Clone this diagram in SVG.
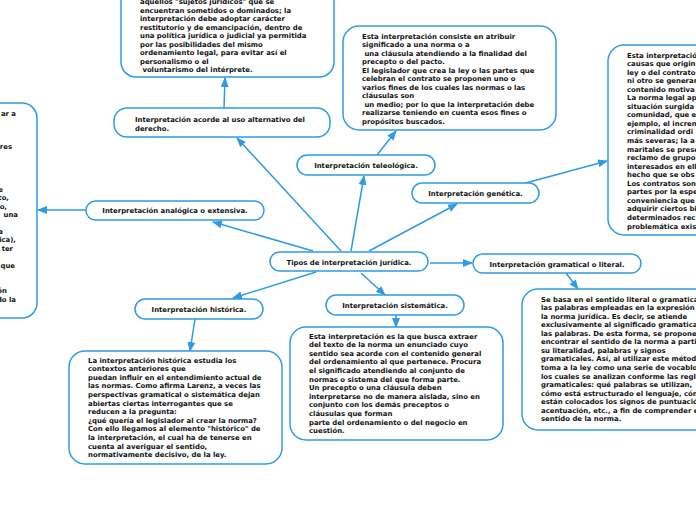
<svg xmlns="http://www.w3.org/2000/svg" width="696" height="520" viewBox="0 0 696 520">
<defs>
<style>
.n{fill:#fff;stroke:#2f9be2;stroke-width:1.5}
.t{font-family:"DejaVu Sans",Verdana,sans-serif;font-weight:bold;font-size:6.9px;fill:#111}
.c{text-anchor:middle}
.e{text-anchor:end}
.l{fill:none;stroke:#2f9be2;stroke-width:1.5}
</style>
<marker id="a" markerUnits="userSpaceOnUse" markerWidth="10" markerHeight="10" viewBox="0 0 10 10" refX="9" refY="5" orient="auto">
<path d="M0,1 L10,5 L0,9 Z" fill="#2f9be2"/>
</marker>
</defs>
<rect width="696" height="520" fill="#fff"/>
<g id="connectors">
<line class="l" x1="341" y1="251" x2="237" y2="138" marker-end="url(#a)"/>
<line class="l" x1="313" y1="251" x2="213" y2="222" marker-end="url(#a)"/>
<line class="l" x1="351" y1="251" x2="364" y2="176" marker-end="url(#a)"/>
<line class="l" x1="369" y1="251" x2="457" y2="204" marker-end="url(#a)"/>
<line class="l" x1="430" y1="263" x2="472" y2="263" marker-end="url(#a)"/>
<line class="l" x1="361" y1="273" x2="385" y2="295" marker-end="url(#a)"/>
<line class="l" x1="316" y1="272" x2="233" y2="298" marker-end="url(#a)"/>
<line class="l" x1="224" y1="108" x2="225" y2="78" marker-end="url(#a)"/>
<line class="l" x1="377" y1="155" x2="396" y2="131" marker-end="url(#a)"/>
<line class="l" x1="522" y1="184" x2="607" y2="161" marker-end="url(#a)"/>
<line class="l" x1="566" y1="273" x2="578" y2="289" marker-end="url(#a)"/>
<line class="l" x1="396" y1="315" x2="396" y2="327" marker-end="url(#a)"/>
<line class="l" x1="195" y1="319" x2="190" y2="351" marker-end="url(#a)"/>
<line class="l" x1="86" y1="210" x2="38" y2="210" marker-end="url(#a)"/>
</g>
<g id="central">
<rect class="n" x="270" y="252" width="158" height="19" rx="9.5"/>
<text class="t c" x="349" y="264.5">Tipos de interpretación jurídica.</text>
</g>
<g id="gramatical">
<rect class="n" x="473" y="254" width="168" height="19" rx="9.5"/>
<text class="t c" x="557" y="266.5">Interpretación gramatical o literal.</text>
</g>
<g id="genetica">
<rect class="n" x="412" y="183" width="127" height="20" rx="10"/>
<text class="t c" x="475.5" y="195.5">Interpretación genética.</text>
</g>
<g id="teleologica">
<rect class="n" x="297" y="155" width="138" height="20" rx="10"/>
<text class="t c" x="366" y="167.5">Interpretación teleológica.</text>
</g>
<g id="sistematica">
<rect class="n" x="326" y="295" width="138" height="20" rx="10"/>
<text class="t c" x="395" y="307.5">Interpretación sistemática.</text>
</g>
<g id="historica">
<rect class="n" x="135" y="299" width="128" height="20" rx="10"/>
<text class="t c" x="199" y="311.5">Interpretación histórica.</text>
</g>
<g id="analogica">
<rect class="n" x="86" y="201" width="178" height="19" rx="9.5"/>
<text class="t c" x="175" y="213">Interpretación analógica o extensiva.</text>
</g>
<g id="acorde">
<rect class="n" x="114" y="108" width="216" height="29" rx="13"/>
<text class="t" x="135" y="122">Interpretación acorde al uso alternativo del<tspan x="135" dy="8.8">derecho.</tspan></text>
</g>
<g id="box-acorde">
<rect class="n" x="121" y="-20" width="213" height="97" rx="15"/>
<text class="t" x="140" y="4.3">aquellos "sujetos jurídicos" que se<tspan x="140" dy="8.5">encuentran sometidos o dominados; la</tspan><tspan x="140" dy="8.5">interpretación debe adoptar carácter</tspan><tspan x="140" dy="8.5">restitutorio y de emancipación, dentro de</tspan><tspan x="140" dy="8.5">una política jurídica o judicial ya permitida</tspan><tspan x="140" dy="8.5">por las posibilidades del mismo</tspan><tspan x="140" dy="8.5">ordenamiento legal, para evitar así el</tspan><tspan x="140" dy="8.5">personalismo o el</tspan><tspan x="140" dy="8.5"> voluntarismo del intérprete.</tspan></text>
</g>
<g id="box-teleologica">
<rect class="n" x="343" y="26" width="213" height="104" rx="16"/>
<text class="t" x="362" y="38.5">Esta interpretación consiste en atribuir<tspan x="362" dy="8.5">significado a una norma o a</tspan><tspan x="362" dy="8.5"> una cláusula atendiendo a la finalidad del</tspan><tspan x="362" dy="8.5">precepto o del pacto.</tspan><tspan x="362" dy="8.5">El legislador que crea la ley o las partes que</tspan><tspan x="362" dy="8.5">celebran el contrato se proponen uno o</tspan><tspan x="362" dy="8.5">varios fines de los cuales las normas o las</tspan><tspan x="362" dy="8.5">cláusulas son</tspan><tspan x="362" dy="8.5"> un medio; por lo que la interpretación debe</tspan><tspan x="362" dy="8.5">realizarse teniendo en cuenta esos fines o</tspan><tspan x="362" dy="8.5">propósitos buscados.</tspan></text>
</g>
<g id="box-genetica">
<rect class="n" x="608" y="45" width="120" height="190" rx="16"/>
<text class="t" x="627" y="57.5">Esta interpretació<tspan x="627" dy="8.55">causas que origin</tspan><tspan x="627" dy="8.55">ley o del contrato</tspan><tspan x="627" dy="8.55">ni otro se generar</tspan><tspan x="627" dy="8.55">contenido motiva</tspan><tspan x="627" dy="8.55">La norma legal ap</tspan><tspan x="627" dy="8.55">situación surgida</tspan><tspan x="627" dy="8.55">comunidad, que e</tspan><tspan x="627" dy="8.55">ejemplo, el incren</tspan><tspan x="627" dy="8.55">criminalidad ordi</tspan><tspan x="627" dy="8.55">más severas; la a</tspan><tspan x="627" dy="8.55">maritales se prese</tspan><tspan x="627" dy="8.55">reclamo de grupo</tspan><tspan x="627" dy="8.55">interesados en ell</tspan><tspan x="627" dy="8.55">hecho que se obs</tspan><tspan x="627" dy="8.55">Los contratos son</tspan><tspan x="627" dy="8.55">partes por la espe</tspan><tspan x="627" dy="8.55">conveniencia que</tspan><tspan x="627" dy="8.55">adquirir ciertos bi</tspan><tspan x="627" dy="8.55">determinados rec</tspan><tspan x="627" dy="8.55">problemática exis</tspan></text>
</g>
<g id="box-gramatical">
<rect class="n" x="522" y="289" width="200" height="141" rx="16"/>
<text class="t" x="541" y="301.5">Se basa en el sentido literal o gramatica<tspan x="541" dy="8.57">las palabras empleadas en la expresión</tspan><tspan x="541" dy="8.57">la norma jurídica. Es decir, se atiende</tspan><tspan x="541" dy="8.57">exclusivamente al significado gramatica</tspan><tspan x="541" dy="8.57">las palabras. De esta forma, se propone</tspan><tspan x="541" dy="8.57">encontrar el sentido de la norma a parti</tspan><tspan x="541" dy="8.57">su literalidad, palabras y signos</tspan><tspan x="541" dy="8.57">gramaticales. Así, al utilizar este métod</tspan><tspan x="541" dy="8.57">toma a la ley como una serie de vocablo</tspan><tspan x="541" dy="8.57">los cuales se analizan conforme las regl</tspan><tspan x="541" dy="8.57">gramaticales: qué palabras se utilizan,</tspan><tspan x="541" dy="8.57">cómo está estructurado el lenguaje, cóm</tspan><tspan x="541" dy="8.57">están colocados los signos de puntuació</tspan><tspan x="541" dy="8.57">acentuación, etc., a fin de comprender e</tspan><tspan x="541" dy="8.57">sentido de la norma.</tspan></text>
</g>
<g id="box-sistematica">
<rect class="n" x="290" y="327" width="213" height="113" rx="16"/>
<text class="t" x="309" y="338.5">Esta interpretación es la que busca extraer<tspan x="309" dy="8.6">del texto de la norma un enunciado cuyo</tspan><tspan x="309" dy="8.6">sentido sea acorde con el contenido general</tspan><tspan x="309" dy="8.6">del ordenamiento al que pertenece. Procura</tspan><tspan x="309" dy="8.6">el significado atendiendo al conjunto de</tspan><tspan x="309" dy="8.6">normas o sistema del que forma parte.</tspan><tspan x="309" dy="8.6">Un precepto o una cláusula deben</tspan><tspan x="309" dy="8.6">interpretarse no de manera aislada, sino en</tspan><tspan x="309" dy="8.6">conjunto con los demás preceptos o</tspan><tspan x="309" dy="8.6">cláusulas que forman</tspan><tspan x="309" dy="8.6">parte del ordenamiento o del negocio en</tspan><tspan x="309" dy="8.6">cuestión.</tspan></text>
</g>
<g id="box-historica">
<rect class="n" x="69" y="351" width="213" height="113" rx="16"/>
<text class="t" x="88" y="362.5">La interpretación histórica estudia los<tspan x="88" dy="8.6">contextos anteriores que</tspan><tspan x="88" dy="8.6">puedan influir en el entendimiento actual de</tspan><tspan x="88" dy="8.6">las normas. Como afirma Larenz, a veces las</tspan><tspan x="88" dy="8.6">perspectivas gramatical o sistemática dejan</tspan><tspan x="88" dy="8.6">abiertas ciertas interrogantes que se</tspan><tspan x="88" dy="8.6">reducen a la pregunta:</tspan><tspan x="88" dy="8.6">¿qué quería el legislador al crear la norma?</tspan><tspan x="88" dy="8.6">Con ello llegamos al elemento "histórico" de</tspan><tspan x="88" dy="8.6">la interpretación, el cual ha de tenerse en</tspan><tspan x="88" dy="8.6">cuenta al averiguar el sentido,</tspan><tspan x="88" dy="8.6">normativamente decisivo, de la ley.</tspan></text>
</g>
<g id="box-analogica">
<rect class="n" x="-180" y="103" width="217" height="215" rx="15"/>
<text class="t e" x="16" y="115.5">ar a</text>
<text class="t e" x="12" y="149.3">res</text>
<text class="t e" x="3" y="191.5">e</text>
<text class="t e" x="9" y="200">to,</text>
<text class="t e" x="7" y="208.5">o,</text>
<text class="t e" x="18" y="216.9">una</text>
<text class="t e" x="3" y="233.8">a</text>
<text class="t e" x="16" y="242.3">ica),</text>
<text class="t e" x="13" y="250.7">ter</text>
<text class="t e" x="15" y="267.6">que</text>
<text class="t e" x="7" y="293">ón</text>
<text class="t e" x="16" y="301.5">do la</text>
</g>
</svg>
